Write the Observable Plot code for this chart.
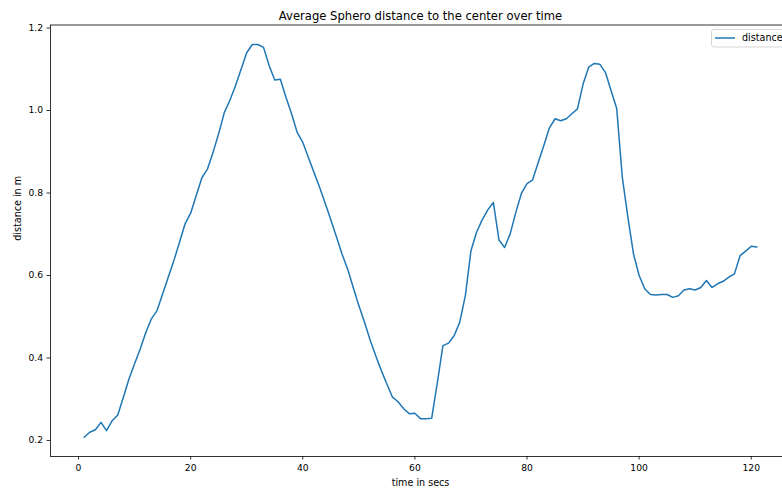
<!DOCTYPE html>
<html>
<head>
<meta charset="utf-8">
<script src="https://cdn.jsdelivr.net/npm/d3@7"></script>
<script src="https://cdn.jsdelivr.net/npm/@observablehq/plot@0.6"></script>
<style>
  html, body { margin: 0; padding: 0; background: white; }
  #chart svg { display: block; }
</style>
</head>
<body>
<div id="chart"></div>
<script>
const title = "Average Sphero distance to the center over time";
const xLabel = "time in secs";
const yLabel = "distance in m";
const seriesName = "distance";

const timeSecs = [
  1,2,3,4,5,6,7,8,9,10,11,12,13,14,15,16,17,18,19,20,
  21,22,23,24,25,26,27,28,29,30,31,32,33,34,35,36,37,38,39,40,
  41,42,43,44,45,46,47,48,49,50,51,52,53,54,55,56,57,58,59,60,
  61,62,63,64,65,66,67,68,69,70,71,72,73,74,75,76,77,78,79,80,
  81,82,83,84,85,86,87,88,89,90,91,92,93,94,95,96,97,98,99,100,
  101,102,103,104,105,106,107,108,109,110,111,112,113,114,115,116,117,118,119,120,121
];
const distance = [
  0.208,0.220,0.226,0.244,0.224,0.248,0.262,0.305,0.349,0.386,
  0.422,0.462,0.495,0.515,0.555,0.596,0.636,0.680,0.725,0.751,
  0.794,0.837,0.858,0.899,0.944,0.995,1.025,1.060,1.100,1.140,
  1.160,1.160,1.153,1.109,1.074,1.076,1.032,0.992,0.947,0.923,
  0.886,0.850,0.814,0.775,0.735,0.694,0.652,0.616,0.571,0.527,
  0.487,0.444,0.406,0.370,0.337,0.305,0.294,0.277,0.265,0.266,
  0.253,0.253,0.254,0.340,0.430,0.436,0.454,0.487,0.551,0.660,
  0.705,0.735,0.759,0.777,0.686,0.668,0.701,0.753,0.799,0.823,
  0.832,0.874,0.915,0.958,0.980,0.975,0.980,0.992,1.004,1.064,
  1.105,1.114,1.112,1.092,1.048,1.005,0.838,0.741,0.652,0.600,
  0.568,0.554,0.553,0.554,0.554,0.547,0.551,0.565,0.568,0.565,
  0.571,0.588,0.571,0.580,0.586,0.596,0.604,0.648,0.659,0.671,0.669
];
const xTicks = [0, 20, 40, 60, 80, 100, 120];
const yTicks = [0.2, 0.4, 0.6, 0.8, 1.0, 1.2];

const data = timeSecs.map((t, i) => ({time: t, distance: distance[i]}));
const blue = "#1f77b4";

const chart = Plot.plot({
  width: 782,
  height: 490,
  marginLeft: 50,
  marginRight: -8,
  marginTop: 24.5,
  marginBottom: 34,
  style: {fontFamily: "DejaVu Sans", fontSize: "9px", color: "black", background: "white"},
  x: {domain: [-5, 127]},
  y: {domain: [0.1612, 1.2073]},
  marks: [
    Plot.line(data, {x: "time", y: "distance", stroke: blue, strokeWidth: 1.5}),
    Plot.frame({stroke: "black", strokeWidth: 0.8}),
    Plot.axisX({ticks: xTicks, tickFormat: d => String(d), tickSize: 3.5, tickPadding: 4, fontSize: 9.2, label: null, strokeWidth: 0.8}),
    Plot.axisY({ticks: yTicks, tickFormat: d => d.toFixed(1), tickSize: 3.5, tickPadding: 4, fontSize: 9.2, label: null, strokeWidth: 0.8}),
    Plot.text([title], {frameAnchor: "top", dy: -9, fontSize: 11.6, lineAnchor: "middle", fill: "black"}),
    Plot.text([xLabel], {frameAnchor: "bottom", dy: 26, fontSize: 9.6, lineAnchor: "middle", fill: "black"}),
    Plot.text([yLabel], {frameAnchor: "left", dx: -33, rotate: -90, fontSize: 9.6, lineAnchor: "middle", fill: "black"})
  ]
});

// legend (cut off on the right, as in the reference)
const svg = d3.select(chart);
const lg = svg.append("g").attr("text-anchor", "start");
lg.append("rect").attr("x", 711.5).attr("y", 29.5).attr("width", 110).attr("height", 17.5)
  .attr("rx", 2.5).attr("fill", "white").attr("fill-opacity", 0.8).attr("stroke", "#cccccc").attr("stroke-width", 0.8);
lg.append("line").attr("x1", 715).attr("x2", 735).attr("y1", 38).attr("y2", 38)
  .attr("stroke", blue).attr("stroke-width", 1.5);
lg.append("text").attr("x", 742).attr("y", 38).attr("dy", "0.35em").attr("text-anchor", "start")
  .attr("font-family", "DejaVu Sans").attr("font-size", 9.6).attr("fill", "black").text(seriesName);

document.getElementById("chart").appendChild(chart);
</script>
</body>
</html>
